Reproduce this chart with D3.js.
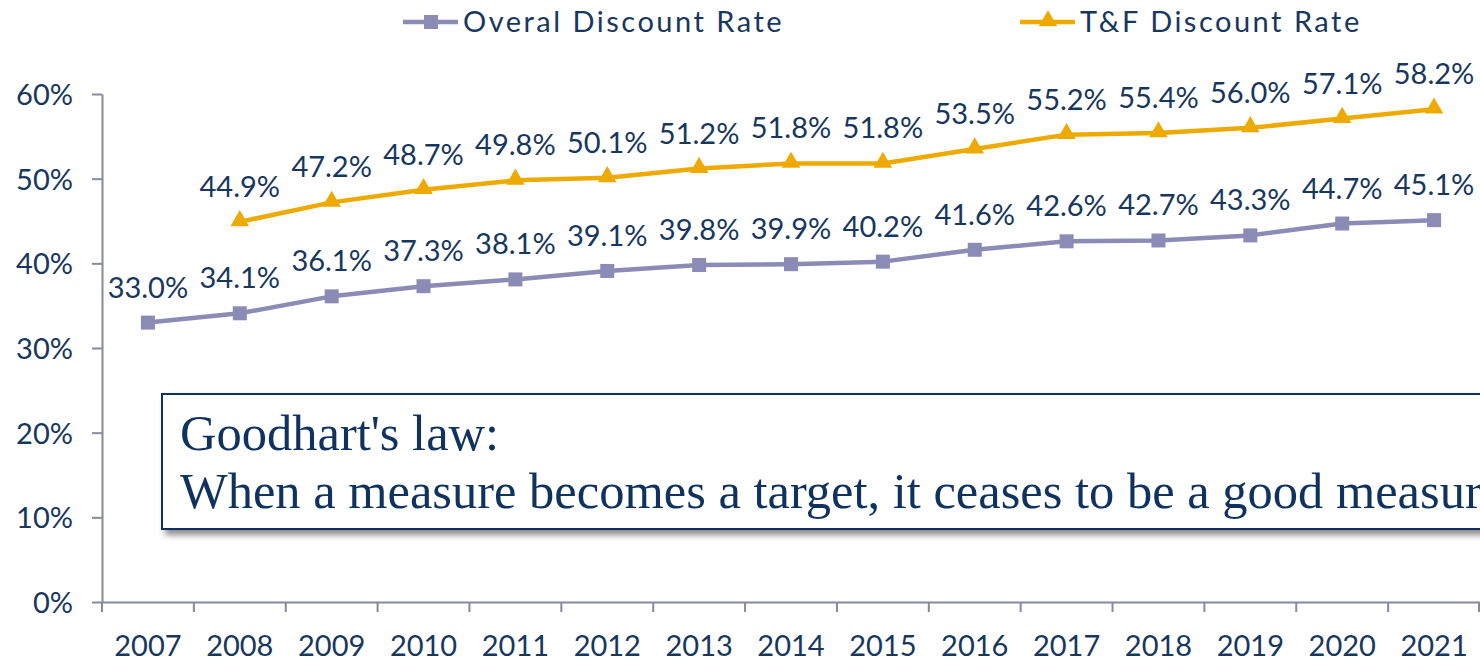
<!DOCTYPE html>
<html>
<head>
<meta charset="utf-8">
<script src="https://cdn.jsdelivr.net/npm/d3@7"></script>
<style>
  body { margin: 0; background: #fff; }
  svg { display: block; }
</style>
</head>
<body>
<svg width="1480" height="661"></svg>
<script>
var years = ["2007", "2008", "2009", "2010", "2011", "2012", "2013", "2014", "2015", "2016", "2017", "2018", "2019", "2020", "2021"];
var overall = [33.0, 34.1, 36.1, 37.3, 38.1, 39.1, 39.8, 39.9, 40.2, 41.6, 42.6, 42.7, 43.3, 44.7, 45.1];
var tandf = [null, 44.9, 47.2, 48.7, 49.8, 50.1, 51.2, 51.8, 51.8, 53.5, 55.2, 55.4, 56.0, 57.1, 58.2];
var yTicks = [0, 10, 20, 30, 40, 50, 60];
var seriesNames = ["Overal Discount Rate", "T&F Discount Rate"];
var note = ["Goodhart's law:", "When a measure becomes a target, it ceases to be a good measure."];

var navy = "#17375e",
  purple = "#8b8bb5",
  gold = "#eeaa00",
  axisGray = "#868a9a",
  font = "Lato, 'Open Sans', sans-serif",
  fs = "29px";

var svg = d3.select("svg");

var x = d3.scaleBand().domain(years).range([102, 1480]);
var y = d3.scaleLinear().domain([0, 60]).range([602, 94]);

// shadow for note box
var defs = svg.append("defs");
var f = defs.append("filter").attr("id", "shadow").attr("x", "-5%").attr("y", "-20%").attr("width", "120%").attr("height", "150%");
f.append("feDropShadow").attr("dx", 4).attr("dy", 5).attr("stdDeviation", 3).attr("flood-color", "#000").attr("flood-opacity", 0.45);

// y axis
var yAxis = svg.append("g")
  .attr("transform", "translate(102,0)")
  .call(d3.axisLeft(y).tickValues(yTicks).tickSize(10).tickSizeOuter(0).tickPadding(19).tickFormat(function (d) { return d + "%"; }));
yAxis.selectAll("path, line").attr("stroke", axisGray).attr("stroke-width", 2);
yAxis.selectAll("text").attr("fill", navy).style("font-family", font).style("font-size", fs).attr("dy", "0.36em");

// x axis
var xAxis = svg.append("g")
  .attr("transform", "translate(0,602)")
  .call(d3.axisBottom(x).tickSize(0).tickSizeOuter(0).tickPadding(33));
xAxis.select(".domain").attr("stroke", axisGray).attr("stroke-width", 2);
xAxis.selectAll("text").attr("fill", navy).style("font-family", font).style("font-size", fs);
xAxis.selectAll(".bound")
  .data(years.concat(["end"]))
  .enter().append("line")
  .attr("x1", function (d, i) { return i < years.length ? x(d) : x(years[years.length - 1]) + x.bandwidth() - 1; })
  .attr("x2", function (d, i) { return i < years.length ? x(d) : x(years[years.length - 1]) + x.bandwidth() - 1; })
  .attr("y1", 0).attr("y2", 10)
  .attr("stroke", axisGray).attr("stroke-width", 2);

function cx(i) { return x(years[i]) + x.bandwidth() / 2; }

var line = d3.line()
  .defined(function (d) { return d != null; })
  .x(function (d, i) { return cx(i); })
  .y(function (d) { return y(d); });

// note box
var box = svg.append("g");
box.append("rect")
  .attr("x", 162).attr("y", 394).attr("width", 1400).attr("height", 135)
  .attr("fill", "#fff").attr("stroke", "#0f335e").attr("stroke-width", 2)
  .attr("filter", "url(#shadow)");
box.selectAll("text")
  .data(note)
  .enter().append("text")
  .attr("x", 180)
  .attr("y", function (d, i) { return 450 + i * 58; })
  .attr("fill", "#0f335e")
  .style("font-family", "'Liberation Serif', serif")
  .style("font-size", "50.5px")
  .text(function (d) { return d; });

// lines
svg.append("path").datum(overall)
  .attr("fill", "none").attr("stroke", purple).attr("stroke-width", 4.5).attr("stroke-linejoin", "round")
  .attr("d", line);
svg.append("path").datum(tandf)
  .attr("fill", "none").attr("stroke", gold).attr("stroke-width", 4.5).attr("stroke-linejoin", "round")
  .attr("d", line);

// markers
svg.selectAll(".sq")
  .data(overall)
  .enter().append("rect")
  .attr("x", function (d, i) { return cx(i) - 7; })
  .attr("y", function (d) { return y(d) - 7; })
  .attr("width", 14).attr("height", 14)
  .attr("fill", purple);

var tri = d3.symbol().type(d3.symbolTriangle).size(150);
svg.selectAll(".tri")
  .data(tandf.map(function (d, i) { return { v: d, i: i }; }).filter(function (d) { return d.v != null; }))
  .enter().append("path")
  .attr("d", tri)
  .attr("transform", function (d) { return "translate(" + cx(d.i) + "," + (y(d.v) - 1) + ")"; })
  .attr("fill", gold);

// data labels
function labels(data) {
  svg.append("g").selectAll("text")
    .data(data.map(function (d, i) { return { v: d, i: i }; }).filter(function (d) { return d.v != null; }))
    .enter().append("text")
    .attr("x", function (d) { return cx(d.i); })
    .attr("y", function (d) { return y(d.v) - 25; })
    .attr("text-anchor", "middle")
    .attr("fill", navy)
    .style("font-family", font)
    .style("font-size", fs)
    .text(function (d) { return d.v.toFixed(1) + "%"; });
}
labels(overall);
labels(tandf);

// legend
var legendX = [403, 1020];
var legend = svg.append("g");
seriesNames.forEach(function (name, k) {
  var g = legend.append("g").attr("transform", "translate(" + legendX[k] + ",22)");
  g.append("line").attr("x1", 0).attr("x2", 55).attr("y1", 0).attr("y2", 0)
    .attr("stroke", k === 0 ? purple : gold).attr("stroke-width", 4.5);
  if (k === 0) {
    g.append("rect").attr("x", 21).attr("y", -7).attr("width", 14).attr("height", 14).attr("fill", purple);
  } else {
    g.append("path").attr("d", tri).attr("transform", "translate(28,-1)").attr("fill", gold);
  }
  g.append("text").attr("x", 60).attr("y", 0).attr("dy", "0.36em")
    .attr("fill", navy).style("font-family", font).style("font-size", fs)
    .style("letter-spacing", "2.5px")
    .text(name);
});
</script>
</body>
</html>
